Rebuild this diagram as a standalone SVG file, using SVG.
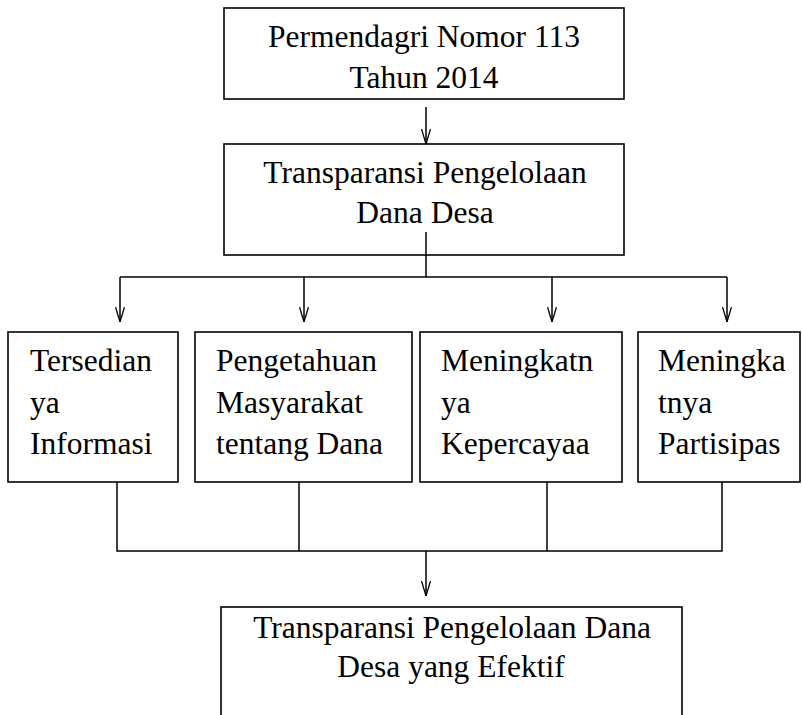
<svg xmlns="http://www.w3.org/2000/svg" width="802" height="715" viewBox="0 0 802 715">
<style>
.box{fill:none;stroke:#000;stroke-width:1.6}
.t{font-family:"Liberation Serif","Times New Roman",serif;font-size:31.5px;fill:#000}
.c{text-anchor:middle}
.ln{fill:none;stroke:#000;stroke-width:1.5}
</style>
<defs>
<marker id="ah" viewBox="0 0 15 10" refX="15" refY="5" markerWidth="15" markerHeight="10" markerUnits="userSpaceOnUse" orient="auto">
<path d="M0,0.5 L15,5 L0,9.5" fill="none" stroke="#000" stroke-width="1.3"/>
</marker>
</defs>
<rect x="0" y="0" width="802" height="715" fill="#fff"/>
<g id="connectors">
<line class="ln" x1="426" y1="107" x2="426" y2="144" marker-end="url(#ah)"/>
<line class="ln" x1="426" y1="232" x2="426" y2="277"/>
<line class="ln" x1="120" y1="277" x2="727" y2="277"/>
<line class="ln" x1="120" y1="277" x2="120" y2="322" marker-end="url(#ah)"/>
<line class="ln" x1="304" y1="277" x2="304" y2="322" marker-end="url(#ah)"/>
<line class="ln" x1="552" y1="277" x2="552" y2="322" marker-end="url(#ah)"/>
<line class="ln" x1="727" y1="277" x2="727" y2="322" marker-end="url(#ah)"/>
<polyline class="ln" points="117,482 117,551 722,551 722,482"/>
<line class="ln" x1="299" y1="482" x2="299" y2="551"/>
<line class="ln" x1="547" y1="482" x2="547" y2="551"/>
<line class="ln" x1="426" y1="551" x2="426" y2="596" marker-end="url(#ah)"/>
</g>
<g id="n1">
<rect class="box" x="224" y="8" width="400" height="91"/>
<text class="t c" x="424" y="47">Permendagri Nomor 113</text>
<text class="t c" x="424" y="88">Tahun 2014</text>
</g>
<g id="n2">
<rect class="box" x="224" y="144" width="400" height="111"/>
<text class="t c" x="425" y="183">Transparansi Pengelolaan</text>
<text class="t c" x="425" y="223">Dana Desa</text>
</g>
<g id="n3">
<rect class="box" x="8" y="332" width="170" height="150"/>
<text class="t" x="30" y="371">Tersedian</text>
<text class="t" x="30" y="413">ya</text>
<text class="t" x="30" y="454">Informasi</text>
</g>
<g id="n4">
<rect class="box" x="195" y="332" width="217" height="150"/>
<text class="t" x="216" y="371">Pengetahuan</text>
<text class="t" x="216" y="413">Masyarakat</text>
<text class="t" x="216" y="454">tentang Dana</text>
</g>
<g id="n5">
<rect class="box" x="420" y="332" width="202" height="150"/>
<text class="t" x="441" y="371">Meningkatn</text>
<text class="t" x="441" y="413">ya</text>
<text class="t" x="441" y="454">Kepercayaa</text>
</g>
<g id="n6">
<rect class="box" x="638" y="332" width="162" height="150"/>
<text class="t" x="658" y="371">Meningka</text>
<text class="t" x="658" y="413">tnya</text>
<text class="t" x="658" y="454">Partisipas</text>
</g>
<g id="n7">
<rect class="box" x="221" y="607" width="461" height="130"/>
<text class="t c" x="452" y="638">Transparansi Pengelolaan Dana</text>
<text class="t c" x="451" y="677">Desa yang Efektif</text>
</g>
</svg>
